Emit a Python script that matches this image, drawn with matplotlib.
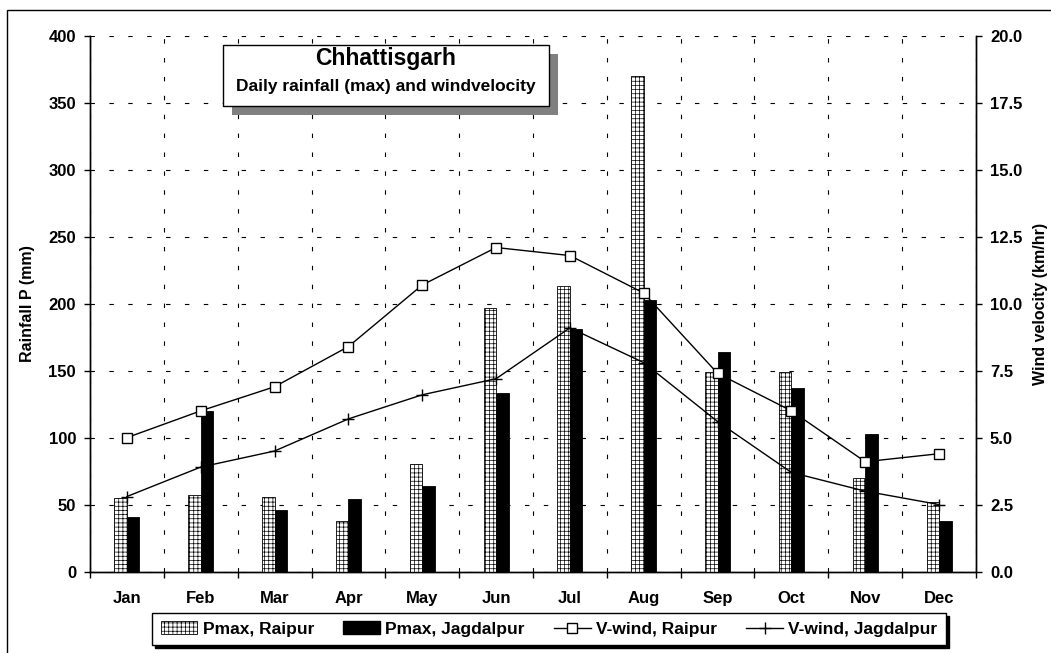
import matplotlib
matplotlib.use("Agg")
import numpy as np
import matplotlib.pyplot as plt
from matplotlib.patches import Rectangle, Patch
from matplotlib.lines import Line2D

# -------------------- данные --------------------
months = ["Jan", "Feb", "Mar", "Apr", "May", "Jun",
          "Jul", "Aug", "Sep", "Oct", "Nov", "Dec"]

# суточный максимум осадков, мм
pmax_raipur = [55, 57, 56, 38, 80, 197, 213, 370, 149, 149, 70, 52]
pmax_jagdalpur = [41, 120, 46, 54, 64, 133, 181, 203, 164, 137, 103, 38]

# скорость ветра, км/ч
wind_raipur = [5.0, 6.0, 6.9, 8.4, 10.7, 12.1, 11.8, 10.4, 7.4, 6.0, 4.1, 4.4]
wind_jagdalpur = [2.8, 3.9, 4.5, 5.7, 6.6, 7.2, 9.1, 7.8, 5.6, 3.7, 3.0, 2.5]

rain_ticks = np.arange(0, 401, 50)
wind_ticks = np.arange(0, 20.1, 2.5)

# -------------------- оформление --------------------
plt.rcParams["font.family"] = ["Liberation Sans", "DejaVu Sans"]
plt.rcParams["font.weight"] = "bold"
plt.rcParams["hatch.linewidth"] = 0.5

W, H = 1051, 653
fig = plt.figure(figsize=(W / 100, H / 100), dpi=100)
fig.patch.set_facecolor("white")


def px(x0, y0, x1, y1):
    # пиксели (от левого верхнего угла) -> координаты фигуры
    return x0 / W, 1 - y1 / H, (x1 - x0) / W, (y1 - y0) / H


# внешняя рамка диаграммы
l, b, w, h = px(7, 10, 1060, 670)
fig.patches.append(Rectangle((l, b), w, h, transform=fig.transFigure,
                             fill=False, edgecolor="black", lw=1.0, zorder=0))

ax = fig.add_axes(px(90, 36, 976, 571.5))
ax2 = ax.twinx()

x = np.arange(len(months))
bw = 0.17

ax.bar(x - bw / 2, pmax_raipur, width=bw, facecolor="white", edgecolor="black",
       hatch="++++", lw=0.6, zorder=3)
ax.bar(x + bw / 2, pmax_jagdalpur, width=bw, facecolor="black", edgecolor="black",
       lw=0.6, zorder=3)

ax2.plot(x, wind_raipur, color="black", lw=1.0, marker="s", ms=7.5,
         mfc="white", mec="black", mew=1.0, zorder=4)
ax2.plot(x, wind_jagdalpur, color="black", lw=1.0, marker="+", ms=9,
         mew=1.0, zorder=4)

# оси
ax.set_xlim(-0.5, 11.5)
ax.set_ylim(0, 400)
ax2.set_ylim(0, 20)

fs = 12
ax.set_yticks(rain_ticks)
ax.set_yticklabels([f"{v:d}" for v in rain_ticks], fontsize=fs, fontweight="bold")
ax2.set_yticks(wind_ticks)
ax2.set_yticklabels([f"{v:.1f}" for v in wind_ticks], fontsize=fs, fontweight="bold")

ax.set_xticks(x)
ax.set_xticklabels(months, fontsize=fs, fontweight="bold")
ax.set_xticks(np.arange(-0.5, 12, 1.0), minor=True)
ax.tick_params(axis="x", which="major", length=0, pad=14)
ax.tick_params(axis="x", which="minor", length=4, width=1.0, direction="out")
ax.tick_params(axis="y", length=4, width=1.0, direction="out", pad=6)
ax2.tick_params(axis="y", length=4, width=1.0, direction="out", pad=6)

dash = (0, (4, 13))
ax.grid(True, axis="y", which="major", color="black", lw=0.8, linestyle=dash, zorder=0)
ax.grid(True, axis="x", which="minor", color="black", lw=0.8, linestyle=dash, zorder=0)
ax.set_axisbelow(True)

for a in (ax, ax2):
    a.spines["top"].set_visible(False)
    for s in ("left", "right", "bottom"):
        a.spines[s].set_linewidth(1.0)

ax.set_ylabel("Rainfall P (mm)", fontsize=11.5, fontweight="bold", labelpad=10)
ax2.set_ylabel("Wind velocity (km/hr)", fontsize=11.5, fontweight="bold", labelpad=8)

# заголовок в рамке с тенью
l, b, w, h = px(232, 54, 558, 115)
fig.patches.append(Rectangle((l, b), w, h, transform=fig.transFigure,
                             facecolor="#808080", edgecolor="none", zorder=5))
l, b, w, h = px(223, 45, 549, 106)
fig.patches.append(Rectangle((l, b), w, h, transform=fig.transFigure,
                             facecolor="white", edgecolor="black", lw=1.0, zorder=6))
fig.text(386 / W, 1 - 59 / H, "Chhattisgarh", ha="center", va="center",
         fontsize=16.5, fontweight="bold", zorder=7)
fig.text(386 / W, 1 - 86 / H, "Daily rainfall (max) and windvelocity",
         ha="center", va="center", fontsize=12.5, fontweight="bold", zorder=7)

# легенда
handles = [
    Patch(facecolor="white", edgecolor="black", hatch="++++", lw=0.6),
    Patch(facecolor="black", edgecolor="black"),
    Line2D([], [], color="black", lw=1.0, marker="s", ms=7, mfc="white", mec="black"),
    Line2D([], [], color="black", lw=1.0, marker="+", ms=9),
]
labels = ["Pmax, Raipur", "Pmax, Jagdalpur", "V-wind, Raipur", "V-wind, Jagdalpur"]
leg = fig.legend(handles, labels, loc="center", bbox_to_anchor=(549 / W, 1 - 629 / H),
                 ncol=4, frameon=True, fancybox=False, edgecolor="black",
                 shadow={"color": "black", "alpha": 1.0},
                 prop={"size": 12.5, "weight": "bold"},
                 handlelength=2.1, handletextpad=0.3, columnspacing=1.7,
                 borderpad=0.5)
leg.get_frame().set_linewidth(1.0)

fig.savefig("out.png", dpi=100)
